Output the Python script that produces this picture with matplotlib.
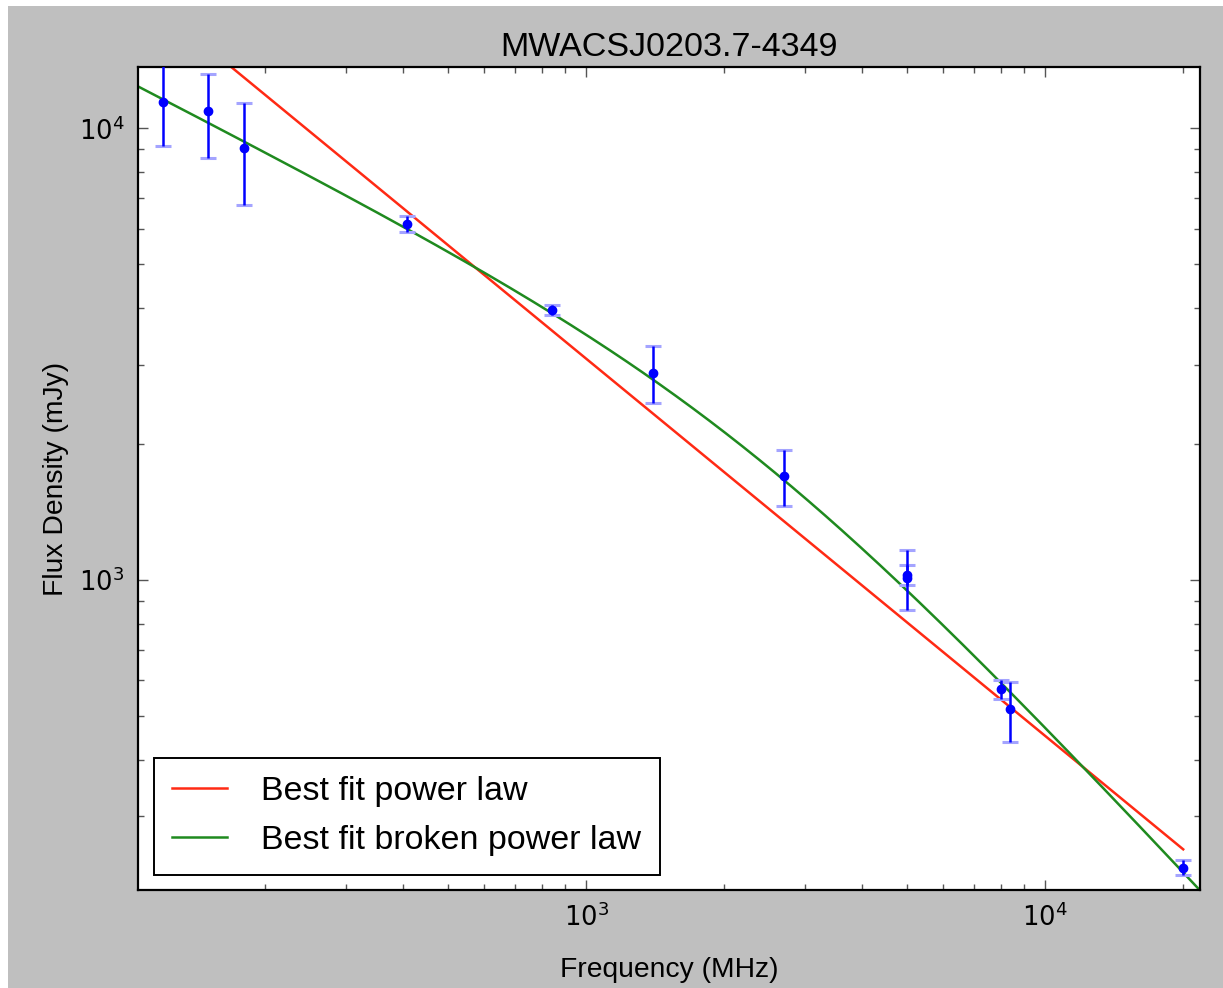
#!/usr/bin/env python3
"""Radio spectrum of MWACSJ0203.7-4349 with power-law and broken power-law fits."""

import matplotlib

matplotlib.use("Agg")
import matplotlib.pyplot as plt
import numpy as np
from matplotlib.patches import Rectangle

# Measured flux densities
freq_mhz = [120, 150, 180, 408, 843, 1400, 2700, 5000, 5000, 8000, 8400, 20000]
flux_mjy = [11450, 10900, 9050, 6150, 3960, 2880, 1700, 1012, 1027, 573, 517, 231]
flux_err = [2310, 2300, 2300, 260, 100, 420, 245, 153, 50, 27, 78, 8.5]

# Best-fit power law: S = S_1GHz * (nu / 1 GHz) ** alpha
pl_s1ghz = 3092.0
pl_alpha = -0.835
pl_range = (100.0, 20000.0)

# Smoothly broken power law, normalised at the break frequency
bpl_sbreak = 1943.0
bpl_nubreak = 2239.0
bpl_alpha1 = -0.52
bpl_alpha2 = -1.10
bpl_smooth = 1.5
bpl_range = (100.0, 25000.0)

title = "MWACSJ0203.7-4349"


def power_law(nu):
    return pl_s1ghz * (nu / 1000.0) ** pl_alpha


def broken_power_law(nu):
    t = (nu / bpl_nubreak) ** bpl_smooth
    return (bpl_sbreak * (nu / bpl_nubreak) ** bpl_alpha1
            * ((1.0 + t) / 2.0) ** ((bpl_alpha2 - bpl_alpha1) / bpl_smooth))


def main() -> None:
    plt.rcParams["font.family"] = ["Liberation Sans", "DejaVu Sans"]
    plt.rcParams["mathtext.fontset"] = "dejavusans"

    fig = plt.figure(figsize=(12.23, 9.88), dpi=100, facecolor="#bfbfbf")
    # thin white margin along the top and left edges
    fig.patches.append(Rectangle((0, 0), 8 / 1223, 1, transform=fig.transFigure,
                                 facecolor="white", edgecolor="none", zorder=-1))
    fig.patches.append(Rectangle((0, 1 - 6 / 988), 1, 6 / 988, transform=fig.transFigure,
                                 facecolor="white", edgecolor="none", zorder=-1))

    ax = fig.add_axes([0.1131, 0.0992, 0.9812 - 0.1131, 0.9319 - 0.0992])
    ax.set_xscale("log")
    ax.set_yscale("log")

    nu_pl = np.logspace(np.log10(pl_range[0]), np.log10(pl_range[1]), 400)
    nu_bpl = np.logspace(np.log10(bpl_range[0]), np.log10(bpl_range[1]), 400)
    ax.plot(nu_pl, power_law(nu_pl), color="#ff2a14", lw=1.8, label="Best fit power law")
    ax.plot(nu_bpl, broken_power_law(nu_bpl), color="#1f8a1f", lw=1.8,
            label="Best fit broken power law")

    _, caps, _ = ax.errorbar(freq_mhz, flux_mjy, yerr=flux_err, fmt="o", color="#0000ff",
                             ms=6, mec="#0000ff", elinewidth=1.8, capsize=5.5,
                             capthick=2.2, zorder=3)
    for cap in caps:
        cap.set_markeredgecolor("#a4a4ff")
        cap.set_zorder(2.5)

    ax.set_xlim(105.8, 21760)
    ax.set_ylim(206, 13650)

    ax.tick_params(which="both", direction="in", top=True, right=True,
                   color="#555555", labelsize=18.5, pad=10,
                   labelfontfamily="DejaVu Sans")
    ax.tick_params(which="major", length=7.5, width=1.0)
    ax.tick_params(which="minor", length=4.5, width=1.0)
    for spine in ax.spines.values():
        spine.set_linewidth(1.6)

    ax.set_title(title, fontsize=24.5, pad=8)
    ax.set_xlabel("Frequency (MHz)", fontsize=20.3, labelpad=18)
    ax.set_ylabel("Flux Density (mJy)", fontsize=20.3, labelpad=7)

    leg = ax.legend(loc="lower left", fontsize=24.5, fancybox=False, framealpha=1,
                    handlelength=1.6, handletextpad=1.0, borderaxespad=0.45,
                    borderpad=0.55, labelspacing=0.52)
    leg.get_frame().set_edgecolor("black")
    leg.get_frame().set_linewidth(1.4)

    fig.savefig("out.png", dpi=100, facecolor=fig.get_facecolor())
    plt.close(fig)


if __name__ == "__main__":
    main()
